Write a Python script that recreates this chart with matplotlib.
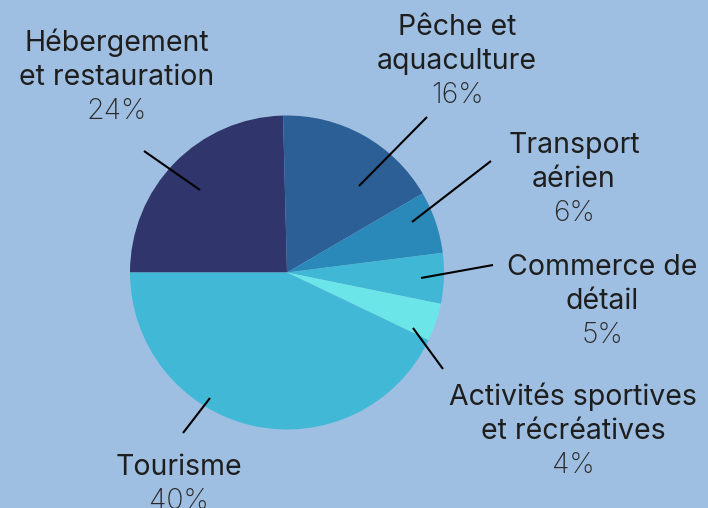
import matplotlib.pyplot as plt

# parts des secteurs (sens horaire depuis la gauche)
secteurs = ["Hébergement\net restauration", "Pêche et\naquaculture", "Transport\naérien",
            "Commerce de\ndétail", "Activités sportives\net récréatives", "Tourisme"]
parts = [24.6, 17.0, 6.4, 5.2, 3.9, 42.9]
pourcentages = ["24%", "16%", "6%", "5%", "4%", "40%"]

couleurs = ["#30356b", "#2d5f97", "#2a89b8", "#3fb7d5", "#6ce5e9", "#42b8d7"]
fond = "#9fbfe2"

W, H = 708, 508

# position des textes (centre x, première ligne de base y) et des traits, en pixels depuis le haut
pos_texte = [(117, 51), (457, 35), (574, 153), (602, 275), (573, 405), (179, 475)]
traits = [((144, 151), (200, 190)), ((427, 117), (359, 186)), ((491, 161), (412, 222)),
          ((493, 265), (421, 278)), ((413, 328), (443, 369)), ((210, 398), (183, 433))]

fig = plt.figure(figsize=(W / 100, H / 100), dpi=100, facecolor=fond)
ax = fig.add_axes([0, 0, 1, 1])
ax.set_facecolor(fond)

ax.pie(parts, colors=couleurs, startangle=180, counterclock=False,
       center=(287, H - 272.5), radius=157, wedgeprops=dict(linewidth=0))

ax.set_xlim(0, W)
ax.set_ylim(0, H)
ax.set_aspect('equal')
ax.axis('off')

pas = 34
for nom, pct, (x, y), (p1, p2) in zip(secteurs, pourcentages, pos_texte, traits):
    lignes = nom.split("\n")
    for i, l in enumerate(lignes):
        ax.text(x, H - (y + i * pas), l, ha='center', va='baseline', fontsize=20.5,
                family='Inter', color='#1e1e1e')
    ax.text(x, H - (y + len(lignes) * pas), pct, ha='center', va='baseline', fontsize=20.5,
            family='Inter', fontweight='light', color='#2a2a2a')
    ax.plot([p1[0], p2[0]], [H - p1[1], H - p2[1]], color='black', linewidth=1.5,
            solid_capstyle='butt')

fig.savefig("out.png", dpi=100, facecolor=fond)
